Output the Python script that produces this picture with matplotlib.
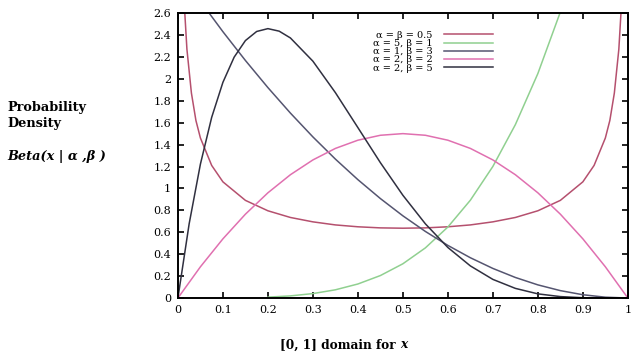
import matplotlib
matplotlib.use("Agg")
import matplotlib.pyplot as plt

# values (beta densities)
x_u = [0.005, 0.01, 0.015, 0.02, 0.03, 0.04, 0.05, 0.075, 0.1, 0.15, 0.2, 0.25, 0.3, 0.35, 0.4, 0.45, 0.5,
       0.55, 0.6, 0.65, 0.7, 0.75, 0.8, 0.85, 0.9, 0.925, 0.95, 0.96, 0.97, 0.98, 0.985, 0.99, 0.995]
y_u = [4.51, 3.20, 2.62, 2.27, 1.87, 1.62, 1.46, 1.21, 1.06, 0.891, 0.796, 0.735, 0.695, 0.667, 0.650, 0.640, 0.637,
       0.640, 0.650, 0.667, 0.695, 0.735, 0.796, 0.891, 1.06, 1.21, 1.46, 1.62, 1.87, 2.27, 2.62, 3.20, 4.51]

x_51 = [0.2, 0.25, 0.3, 0.35, 0.4, 0.45, 0.5, 0.55, 0.6, 0.65, 0.7, 0.75, 0.8, 0.85, 0.9]
y_51 = [0.008, 0.0195, 0.0405, 0.075, 0.128, 0.205, 0.3125, 0.4575, 0.648, 0.8925, 1.2005, 1.582, 2.048, 2.61, 3.28]

x_13 = [0.0, 0.05, 0.1, 0.15, 0.2, 0.25, 0.3, 0.35, 0.4, 0.45, 0.5, 0.55, 0.6, 0.65, 0.7, 0.75, 0.8, 0.85, 0.9, 0.95, 1.0]
y_13 = [3.0, 2.7075, 2.43, 2.1675, 1.92, 1.6875, 1.47, 1.2675, 1.08, 0.9075, 0.75, 0.6075, 0.48, 0.3675, 0.27,
        0.1875, 0.12, 0.0675, 0.03, 0.0075, 0.0]

x_22 = [0.0, 0.05, 0.1, 0.15, 0.2, 0.25, 0.3, 0.35, 0.4, 0.45, 0.5, 0.55, 0.6, 0.65, 0.7, 0.75, 0.8, 0.85, 0.9, 0.95, 1.0]
y_22 = [0.0, 0.285, 0.54, 0.765, 0.96, 1.125, 1.26, 1.365, 1.44, 1.485, 1.5, 1.485, 1.44, 1.365, 1.26, 1.125,
        0.96, 0.765, 0.54, 0.285, 0.0]

x_25 = [0.0, 0.025, 0.05, 0.075, 0.1, 0.125, 0.15, 0.175, 0.2, 0.225, 0.25, 0.3, 0.35, 0.4, 0.45, 0.5, 0.55,
        0.6, 0.65, 0.7, 0.75, 0.8, 0.85, 0.9, 0.95, 1.0]
y_25 = [0.0, 0.678, 1.222, 1.648, 1.968, 2.198, 2.349, 2.432, 2.458, 2.435, 2.373, 2.161, 1.874, 1.555, 1.235,
        0.9375, 0.677, 0.461, 0.293, 0.170, 0.088, 0.038, 0.013, 0.0027, 0.0002, 0.0]

labels = ["α = β = 0.5", "α = 5, β = 1", "α = 1, β = 3", "α = 2, β = 2", "α = 2, β = 5"]
colors = ["#b5506e", "#90d090", "#555570", "#e070b0", "#303040"]

xticks = [0, 0.1, 0.2, 0.3, 0.4, 0.5, 0.6, 0.7, 0.8, 0.9, 1]
yticks = [0, 0.2, 0.4, 0.6, 0.8, 1, 1.2, 1.4, 1.6, 1.8, 2, 2.2, 2.4, 2.6]

plt.rcParams["font.family"] = ["DejaVu Serif"]

fig = plt.figure(figsize=(6.4, 3.63), dpi=100)
ax = fig.add_axes([0.278, 0.179, 0.703, 0.785])

series = [(x_u, y_u), (x_51, y_51), (x_13, y_13), (x_22, y_22), (x_25, y_25)]
for (xs, ys), lab, c in zip(series, labels, colors):
    ax.plot(xs, ys, color=c, lw=1.1, label=lab)

ax.set_xlim(0, 1)
ax.set_ylim(0, 2.6)
ax.set_xticks(xticks)
ax.set_yticks(yticks)
ax.set_xticklabels(["%g" % t for t in xticks])
ax.set_yticklabels(["%g" % t for t in yticks])
ax.tick_params(direction="in", top=True, right=True, length=4, width=1.2, labelsize=8, pad=5)
for sp in ax.spines.values():
    sp.set_linewidth(1.4)

leg = ax.legend(loc="upper left", bbox_to_anchor=(0.422, 0.955), frameon=False, markerfirst=False,
                fontsize=7, handlelength=5.0, labelspacing=-0.08, handletextpad=1.2, borderpad=0.0)

fig.text(0.012, 0.683, "Probability\nDensity", fontsize=9.3, fontweight="bold", va="center", ha="left",
         linespacing=1.3)
fig.text(0.012, 0.570, "Beta(x | α ,β )", fontsize=9.3, fontweight="bold", fontstyle="italic",
         va="center", ha="left")
fig.text(0.625, 0.05, "[0, 1] domain for ", fontsize=8.7, fontweight="bold", ha="right", va="center")
fig.text(0.625, 0.05, "x", fontsize=8.7, fontweight="bold", fontstyle="italic", ha="left", va="center")

fig.savefig("out.png", dpi=100)
